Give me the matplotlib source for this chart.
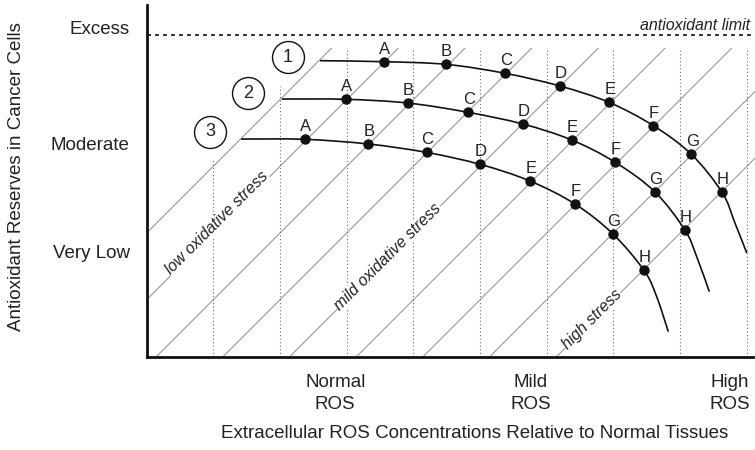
import numpy as np
import matplotlib
matplotlib.use('Agg')
import matplotlib.pyplot as plt
from matplotlib.path import Path
from matplotlib.patches import PathPatch, Rectangle

plt.rcParams['font.family'] = ['Liberation Sans', 'DejaVu Sans']

# units: one dotted column = 1
dotted_x = [1, 2, 3, 4, 5, 6, 7, 8, 9]
dotted_top = [2.95, 4.05, 4.63, 4.63, 4.63, 4.63, 4.63, 4.63, 4.63]
diag_offsets = [-1.85, -0.85, 0.15, 1.15, 2.15, 3.15, 4.15, 5.15, 6.15]  # lines x - y = c
diag_top = 4.62
limit_y = 4.82

ytick_pos = [4.94, 3.20, 1.58]
ytick_labels = ['Excess', 'Moderate', 'Very Low']
xtick_pos = [2.83, 5.76, 8.75]
xtick_labels = ['Normal\nROS', 'Mild\nROS', 'High\nROS']

point_names = ['A', 'B', 'C', 'D', 'E', 'F', 'G', 'H']
curve_ids = ['1', '2', '3']
# curve trace: start, A..H, two points on the tail
curve1_x = [2.60, 3.56, 4.49, 5.375, 6.20, 6.935, 7.60, 8.17, 8.63, 8.823, 9.00]
curve1_y = [4.435, 4.42, 4.38, 4.246, 4.055, 3.81, 3.46, 3.03, 2.46, 2.00, 1.55]
curve2_x = [2.03, 2.99, 3.92, 4.825, 5.64, 6.375, 7.03, 7.62, 8.07, 8.249, 8.438]
curve2_y = [3.86, 3.856, 3.80, 3.66, 3.486, 3.246, 2.91, 2.47, 1.90, 1.496, 0.972]
curve3_x = [1.417, 2.376, 3.325, 4.20, 5.005, 5.75, 6.424, 6.99, 7.46, 7.649, 7.823]
curve3_y = [3.26, 3.256, 3.186, 3.06, 2.88, 2.631, 2.286, 1.84, 1.29, 0.897, 0.372]
circle_x = [2.115, 1.517, 0.952]
circle_y = [4.49, 3.946, 3.37]

zone_labels = ['low oxidative stress', 'mild oxidative stress', 'high stress']
zone_x = [1.06, 3.62, 6.675]
zone_y = [2.00, 1.50, 0.56]


def smooth_path(xs, ys):
    pts = np.column_stack([xs, ys])
    n = len(pts)
    verts = [pts[0]]
    codes = [Path.MOVETO]
    for i in range(n - 1):
        p0 = pts[max(i - 1, 0)]
        p1 = pts[i]
        p2 = pts[i + 1]
        p3 = pts[min(i + 2, n - 1)]
        verts += [p1 + (p2 - p0) / 6, p2 - (p3 - p1) / 6, p2]
        codes += [Path.CURVE4] * 3
    return Path(verts, codes)


fig = plt.figure(figsize=(7.55, 4.5), dpi=100)
ax = fig.add_axes([146.5 / 755, 93.5 / 450, 608.5 / 755, 351.5 / 450])
unit = 66.7
ax.set_xlim(0, 608.5 / unit)
ax.set_ylim(0, 351.5 / unit)

for s in ['top', 'right']:
    ax.spines[s].set_visible(False)
for s in ['left', 'bottom']:
    ax.spines[s].set_linewidth(2.0)
    ax.spines[s].set_color('#111111')

# diagonal stress lines
clip = Rectangle((0, 0), 10, diag_top, transform=ax.transData)
for c in diag_offsets:
    ln = ax.axline((c, 0), slope=1, color='#9a9a9a', lw=0.8, zorder=1)
    ln.set_clip_path(clip)

# dotted columns
ax.vlines(dotted_x, 0, dotted_top, colors='#707070', linestyles=(0, (1, 2.2)), lw=0.8, zorder=1)

# antioxidant limit
ax.axhline(limit_y, color='#111111', lw=1.2, linestyle=(0, (2.4, 2.4)), zorder=2)
ax.text(9.05, limit_y + 0.15, 'antioxidant limit', style='italic', fontsize=11.5,
        ha='right', va='center', color='#222222')

for lab, x, y in zip(zone_labels, zone_x, zone_y):
    ax.text(x, y, lab, rotation=45, style='italic', fontsize=11.5, ha='center', va='center',
            color='#222222', zorder=3,
            bbox=dict(facecolor='white', edgecolor='none', pad=0.3))

curves_x = [curve1_x, curve2_x, curve3_x]
curves_y = [curve1_y, curve2_y, curve3_y]
for cx, cy in zip(curves_x, curves_y):
    ax.add_patch(PathPatch(smooth_path(cx, cy), facecolor='none', edgecolor='#111111', lw=1.2, zorder=4))
    ax.plot(cx[1:9], cy[1:9], 'o', ms=6.5, color='#111111', zorder=5)
    for name, x, y in zip(point_names, cx[1:9], cy[1:9]):
        ax.annotate(name, (x, y), xytext=(0.5, 5.8), textcoords='offset points',
                    ha='center', va='baseline', fontsize=12, color='#222222', zorder=6)

ax.plot(circle_x, circle_y, 'o', ms=23, mfc='white', mec='#111111', mew=1.0, zorder=5)
for cid, x, y in zip(curve_ids, circle_x, circle_y):
    ax.text(x, y, cid, ha='center', va='center', fontsize=13, color='#222222', zorder=6)

ax.set_yticks(ytick_pos, ytick_labels, fontsize=13.5, color='#222222')
ax.set_xticks(xtick_pos, xtick_labels, fontsize=13.5, color='#222222', linespacing=1.4)
ax.tick_params(axis='y', length=0, pad=12)
ax.tick_params(axis='x', length=0, pad=12.5)

fig.text(475 / 755, 1 - 433.5 / 450, 'Extracellular ROS Concentrations Relative to Normal Tissues',
         ha='center', va='center', fontsize=13.5, color='#222222')
fig.text(17 / 755, 1 - 176.5 / 450, 'Antioxidant Reserves in Cancer Cells', rotation=90,
         ha='center', va='center', fontsize=13.5, color='#222222')

fig.savefig('out.png', dpi=100)
